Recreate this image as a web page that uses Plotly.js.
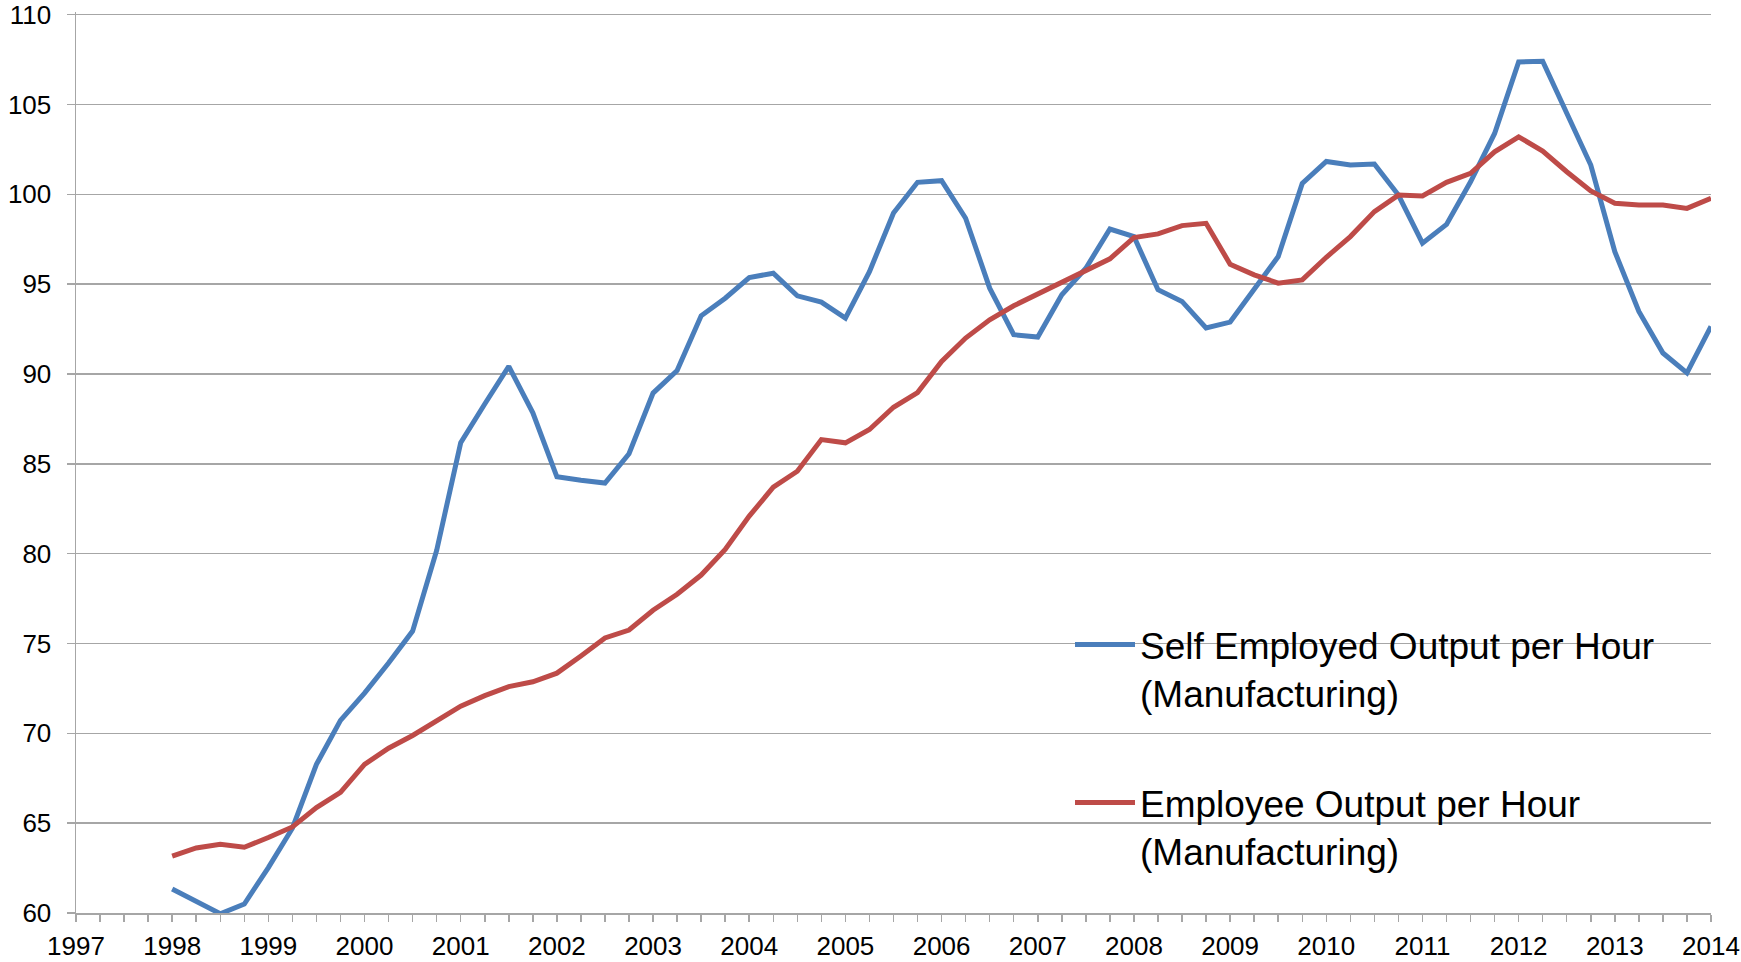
<!DOCTYPE html>
<html>
<head>
<meta charset="utf-8">
<script src="https://cdn.plot.ly/plotly-3.0.1.min.js"></script>
<style>
html,body{margin:0;padding:0;background:#fff;}
#chart{width:1741px;height:962px;}
</style>
</head>
<body>
<div id="chart"></div>
<script>
// Quarterly observations, 1998 Q1 .. 2014 Q1
const startYear = 1998;
const selfEmployed = [
  61.34, 60.65, 59.96, 60.50,
  62.53, 64.72, 68.27, 70.72,
  72.24, 73.91, 75.69, 80.18,
  86.18, 88.33, 90.43, 87.84,
  84.28, 84.09, 83.93, 85.56,
  88.94, 90.19, 93.24, 94.22,
  95.37, 95.61, 94.35, 94.00,
  93.11, 95.70, 98.96, 100.67,
  100.76, 98.67, 94.78, 92.19,
  92.06, 94.41, 95.89, 98.07,
  97.65, 94.69, 94.04, 92.56,
  92.89, 94.72, 96.54, 100.61,
  101.83, 101.63, 101.69, 99.96,
  97.28, 98.33, 100.70, 103.39,
  107.37, 107.41, 104.50, 101.63,
  96.81, 93.48, 91.17, 90.06,
  92.65
];
const employee = [
  63.16, 63.62, 63.83, 63.66,
  64.20, 64.79, 65.87, 66.71,
  68.27, 69.17, 69.88, 70.68,
  71.51, 72.10, 72.60, 72.87,
  73.35, 74.31, 75.31, 75.75,
  76.85, 77.74, 78.81, 80.24,
  82.09, 83.70, 84.59, 86.35,
  86.17, 86.91, 88.15, 88.97,
  90.70, 92.00, 93.02, 93.80,
  94.44, 95.06, 95.74, 96.41,
  97.59, 97.80, 98.26, 98.39,
  96.11, 95.52, 95.06, 95.24,
  96.50, 97.65, 99.04, 99.96,
  99.91, 100.67, 101.17, 102.37,
  103.20, 102.41, 101.26, 100.19,
  99.50, 99.41, 99.41, 99.22,
  99.78
];
const yearTicks = [1997,1998,1999,2000,2001,2002,2003,2004,2005,2006,2007,2008,2009,2010,2011,2012,2013,2014];
const yearLabels = yearTicks.map(String);
const yTicks = [60,65,70,75,80,85,90,95,100,105,110];
const seriesNames = [
  "Self Employed Output per Hour<br>(Manufacturing)",
  "Employee Output per Hour<br>(Manufacturing)"
];

const xq = selfEmployed.map((_, i) => startYear + i * 0.25);

const W = 1741, H = 962;
const font = "Liberation Sans, Arial, sans-serif";
const gridCol = "#a6a6a6";

const traces = [
  {x: xq, y: selfEmployed, type: "scatter", mode: "lines", name: seriesNames[0],
   line: {color: "#4a7ebb", width: 5}, legend: "legend"},
  {x: xq, y: employee, type: "scatter", mode: "lines", name: seriesNames[1],
   line: {color: "#be4b48", width: 5}, legend: "legend2"}
];

const legendCommon = {
  xref: "container", yref: "container", xanchor: "left", yanchor: "top",
  bgcolor: "rgba(0,0,0,0)", borderwidth: 0, valign: "top",
  font: {family: font, size: 37, color: "#000"}, itemwidth: 60
};

const layout = {
  width: W, height: H,
  margin: {l: 76, r: 30, t: 12, b: 49, autoexpand: false},
  paper_bgcolor: "#fff", plot_bgcolor: "#fff",
  showlegend: true,
  xaxis: {
    range: [1997, 2014], tickmode: "array", tickvals: yearTicks, ticktext: yearLabels,
    showgrid: false, zeroline: false,
    showline: true, linecolor: gridCol, linewidth: 1.5,
    ticks: "outside", ticklen: 7, tickcolor: gridCol, tickwidth: 1.5,
    minor: {dtick: 0.25, tick0: 1997, ticks: "outside", ticklen: 7, tickcolor: gridCol, tickwidth: 1.5, showgrid: false},
    tickfont: {family: font, size: 26, color: "#000"},
    ticklabelstandoff: 2,
    ticklabeloverflow: "allow",
    fixedrange: true
  },
  yaxis: {
    range: [60, 110.15], tickmode: "array", tickvals: yTicks, ticktext: yTicks.map(String),
    showgrid: true, gridcolor: gridCol, gridwidth: 1.5,
    zeroline: false, showline: true, linecolor: gridCol, linewidth: 1.5,
    ticks: "outside", ticklen: 8, tickcolor: gridCol, tickwidth: 1.5,
    tickfont: {family: font, size: 26, color: "#000"},
    ticklabelstandoff: 10,
    ticklabeloverflow: "allow",
    fixedrange: true
  },
  legend: Object.assign({}, legendCommon, {x: 1070 / W, y: 1 - 614 / H}),
  legend2: Object.assign({}, legendCommon, {x: 1070 / W, y: 1 - 772 / H})
};

Plotly.newPlot("chart", traces, layout, {displayModeBar: false, staticPlot: true});
</script>
</body>
</html>
